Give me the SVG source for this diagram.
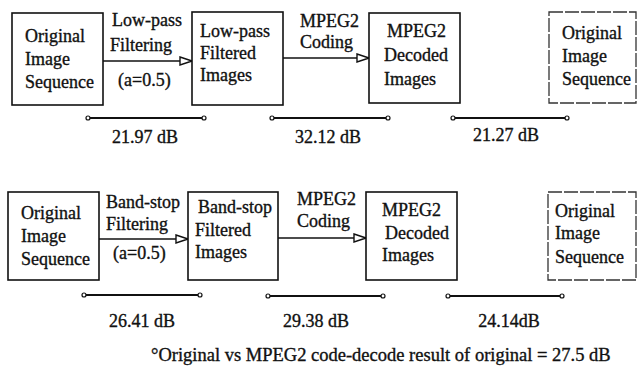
<svg xmlns="http://www.w3.org/2000/svg" width="637" height="368" viewBox="0 0 637 368">
<style>
text{font-family:"Liberation Serif","Times New Roman",serif;font-size:18px;fill:#111;stroke:#111;stroke-width:0.35}
.box{fill:#fff;stroke:#111;stroke-width:1.6}
.ref{fill:#fff;stroke:#333;stroke-width:1.3;stroke-dasharray:14 2}
.arr{stroke:#111;stroke-width:1.6;fill:none;marker-end:url(#tri)}
.bar{stroke:#111;stroke-width:2.2;fill:none}
.dot{fill:#fff;stroke:#111;stroke-width:1.2}
.m{text-anchor:middle}
</style>
<defs>
<marker id="tri" viewBox="0 0 14 10" refX="13" refY="5" markerWidth="14" markerHeight="10" markerUnits="userSpaceOnUse" orient="auto">
<path d="M1,1 L13,5 L1,9 Z" fill="#fff" stroke="#111" stroke-width="1.4"/>
</marker>
</defs>
<rect width="637" height="368" fill="#fff"/>

<g id="connectors">
<line class="arr" x1="103" y1="61" x2="192" y2="61"/>
<line class="arr" x1="283" y1="58" x2="369" y2="58"/>
<line class="arr" x1="99" y1="239" x2="188" y2="239"/>
<line class="arr" x1="278" y1="238" x2="366" y2="238"/>
<text x="112" y="26">Low-pass</text>
<text x="110" y="51">Filtering</text>
<text x="118" y="86">(a=0.5)</text>
<text x="300" y="27">MPEG2</text>
<text x="300" y="48">Coding</text>
<text x="106" y="208">Band-stop</text>
<text x="106" y="230">Filtering</text>
<text x="113" y="259">(a=0.5)</text>
<text x="297" y="205">MPEG2</text>
<text x="297" y="227">Coding</text>
</g>

<g id="top-original">
<rect class="box" x="12" y="13" width="91" height="92"/>
<text x="25" y="42">Original</text>
<text x="25" y="65">Image</text>
<text x="25" y="88">Sequence</text>
</g>
<g id="top-lowpass">
<rect class="box" x="192" y="12" width="91" height="93"/>
<text x="200" y="37">Low-pass</text>
<text x="200" y="59">Filtered</text>
<text x="200" y="81">Images</text>
</g>
<g id="top-decoded">
<rect class="box" x="369" y="13" width="91" height="90"/>
<text x="387" y="37">MPEG2</text>
<text x="384" y="61">Decoded</text>
<text x="384" y="85">Images</text>
</g>
<g id="top-reference">
<rect class="ref" x="549" y="12" width="87" height="91"/>
<text x="562" y="39">Original</text>
<text x="562" y="62">Image</text>
<text x="562" y="85">Sequence</text>
</g>

<g id="bottom-original">
<rect class="box" x="8" y="192" width="91" height="88"/>
<text x="21" y="219">Original</text>
<text x="21" y="242">Image</text>
<text x="21" y="265">Sequence</text>
</g>
<g id="bottom-bandstop">
<rect class="box" x="188" y="192" width="90" height="88"/>
<text x="198" y="213">Band-stop</text>
<text x="195" y="236">Filtered</text>
<text x="195" y="258">Images</text>
</g>
<g id="bottom-decoded">
<rect class="box" x="366" y="192" width="91" height="88"/>
<text x="382" y="216">MPEG2</text>
<text x="385" y="239">Decoded</text>
<text x="382" y="261">Images</text>
</g>
<g id="bottom-reference">
<rect class="ref" x="548" y="192" width="88" height="88"/>
<text x="555" y="217">Original</text>
<text x="555" y="239">Image</text>
<text x="555" y="263">Sequence</text>
</g>

<g id="measures">
<line class="bar" x1="88" y1="118" x2="204" y2="118"/>
<circle class="dot" cx="88" cy="118" r="2"/><circle class="dot" cx="204" cy="118" r="2"/>
<line class="bar" x1="272" y1="118" x2="388" y2="118"/>
<circle class="dot" cx="272" cy="118" r="2"/><circle class="dot" cx="388" cy="118" r="2"/>
<line class="bar" x1="453" y1="118" x2="567" y2="118"/>
<circle class="dot" cx="453" cy="118" r="2"/><circle class="dot" cx="567" cy="118" r="2"/>
<text class="m" x="145" y="143">21.97 dB</text>
<text class="m" x="328" y="143">32.12 dB</text>
<text class="m" x="506" y="141">21.27 dB</text>

<line class="bar" x1="84" y1="295" x2="200" y2="295"/>
<circle class="dot" cx="84" cy="295" r="2"/><circle class="dot" cx="200" cy="295" r="2"/>
<line class="bar" x1="268" y1="296" x2="383" y2="296"/>
<circle class="dot" cx="268" cy="296" r="2"/><circle class="dot" cx="383" cy="296" r="2"/>
<line class="bar" x1="448" y1="296" x2="562" y2="296"/>
<circle class="dot" cx="448" cy="296" r="2"/><circle class="dot" cx="562" cy="296" r="2"/>
<text class="m" x="142" y="327">26.41 dB</text>
<text class="m" x="316" y="327">29.38 dB</text>
<text class="m" x="509" y="327">24.14dB</text>
</g>

<text id="footnote" x="151" y="361" style="font-size:18.5px">°Original vs MPEG2 code-decode result of original = 27.5 dB</text>
</svg>
